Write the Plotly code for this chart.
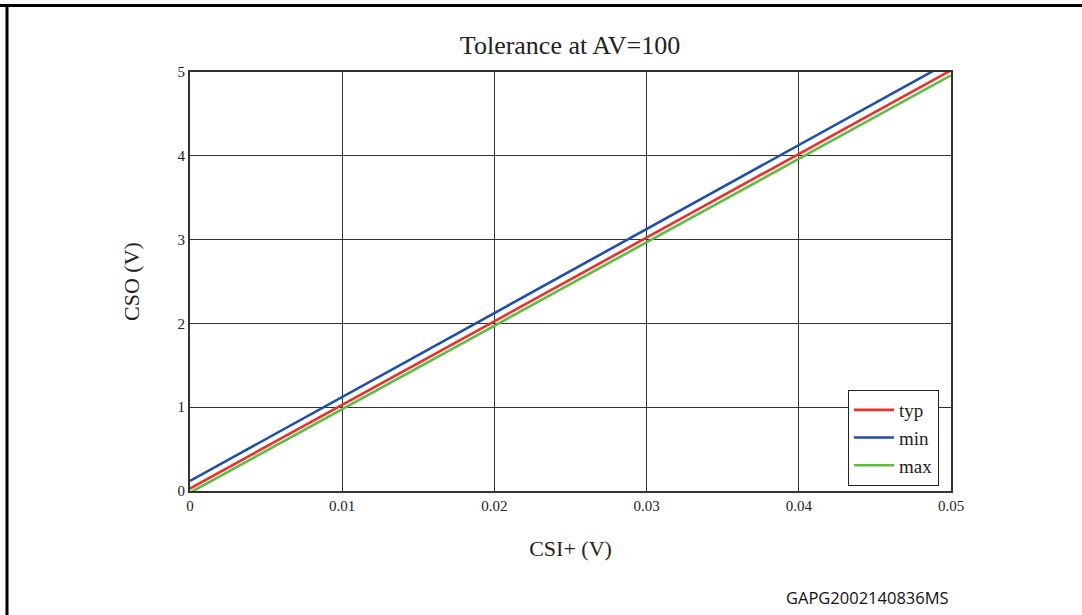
import plotly.graph_objects as go

# Data
series_names = ["typ", "min", "max"]
typ_x = [0.0, 0.05]
typ_y = [0.03, 5.02]
min_x = [0.0, 0.049]
min_y = [0.12, 5.03]
max_x = [0.0, 0.05]
max_y = [-0.02, 4.96]
colors = ["#e8322b", "#1f50a8", "#62ba45"]
x_ticks = [0, 0.01, 0.02, 0.03, 0.04, 0.05]
x_tick_labels = ["0", "0.01", "0.02", "0.03", "0.04", "0.05"]
y_ticks = [0, 1, 2, 3, 4, 5]
y_tick_labels = ["0", "1", "2", "3", "4", "5"]

serif = "Liberation Serif, Times New Roman, serif"

fig = go.Figure()
for name, xs, ys, c in zip(series_names, [typ_x, min_x, max_x], [typ_y, min_y, max_y], colors):
    fig.add_trace(go.Scatter(x=xs, y=ys, mode="lines", name=name,
                             line=dict(color=c, width=2.6)))

fig.update_layout(
    width=1082, height=615,
    margin=dict(l=190, r=131, t=72, b=124),
    paper_bgcolor="white", plot_bgcolor="white",
    title=dict(text="Tolerance at AV=100", x=(570 / 1082), xanchor="center",
               y=1 - 45 / 615, yanchor="middle",
               font=dict(family=serif, size=26, color="#222")),
    xaxis=dict(range=[0, 0.05], tickvals=x_ticks, ticktext=x_tick_labels,
               showgrid=True, gridcolor="#333", gridwidth=1,
               showline=True, linecolor="#333", linewidth=2, mirror=True,
               zeroline=False, ticks="", ticklen=0,
               tickfont=dict(family=serif, size=15, color="#222"),
               title=dict(text="CSI+ (V)", font=dict(family=serif, size=22, color="#222"), standoff=28)),
    yaxis=dict(range=[0, 5], tickvals=y_ticks, ticktext=y_tick_labels,
               showgrid=True, gridcolor="#333", gridwidth=1,
               showline=True, linecolor="#333", linewidth=2, mirror=True,
               zeroline=False, ticks="", ticklen=0,
               tickfont=dict(family=serif, size=15, color="#222"),
               title=dict(text="CSO (V)", font=dict(family=serif, size=22, color="#222"), standoff=32)),
    legend=dict(x=(939 - 190) / 761, xanchor="right", y=(491 - 390) / 419, yanchor="top",
                bgcolor="white", bordercolor="#222", borderwidth=1,
                font=dict(family=serif, size=19, color="#222"),
                tracegroupgap=0, itemwidth=40),
    showlegend=True,
)

# Outer frame (top and left border lines)
fig.add_shape(type="line", xref="paper", yref="paper",
              x0=(0 - 190) / 761, x1=(1082 - 190) / 761,
              y0=(491 - 5.5) / 419, y1=(491 - 5.5) / 419,
              line=dict(color="black", width=3))
fig.add_shape(type="line", xref="paper", yref="paper",
              x0=(7 - 190) / 761, x1=(7 - 190) / 761,
              y0=(491 - 4) / 419, y1=(491 - 620) / 419,
              line=dict(color="black", width=3))

fig.add_annotation(text="GAPG2002140836MS", xref="paper", yref="paper",
                   x=(951 - 190) / 761, xanchor="right",
                   y=(491 - 597) / 419, yanchor="middle", showarrow=False,
                   font=dict(family="Open Sans, sans-serif", size=16.5, color="#111"))

fig.write_html("out.html")
